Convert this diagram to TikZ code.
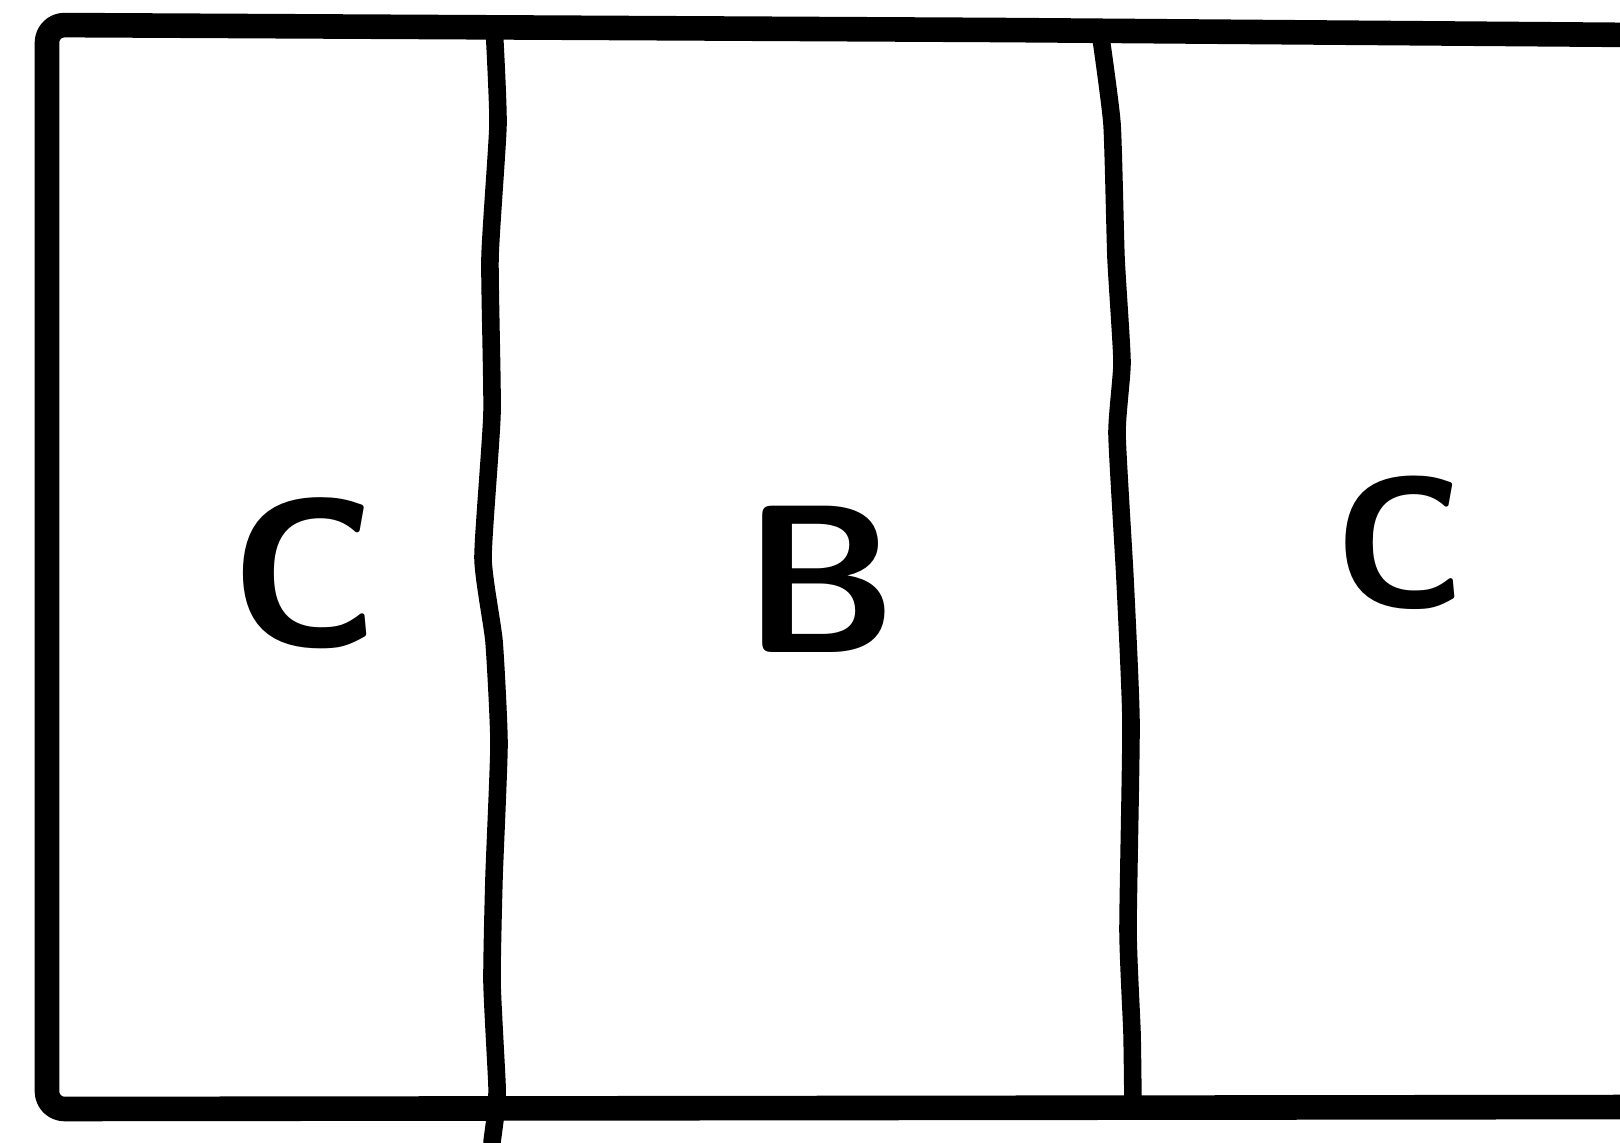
\documentclass[tikz,border=0pt]{standalone}
\usepackage{fontspec}
\begin{document}
\begin{tikzpicture}[
    every node/.style={font=\sffamily},
    frame/.style={black, line width=7pt, line join=round, rounded corners=5pt},
    wall/.style={black, line width=5pt, line cap=round},
    letter/.style={inner sep=0pt, font=\sffamily\bfseries\fontsize{60}{60}\selectfont},
]
\useasboundingbox (0,0) rectangle (16.20,11.42);

% ============================================================ outer frame, open to the right
\draw[frame] (16.40, 11.07) -- (10.00, 11.12) -- (0.47, 11.17)
    -- (0.47, 0.33) -- (16.40, 0.35);

% ============================================================ the two wavy dividers
\draw[wall] plot[smooth, tension=0.3] coordinates {
    (4.94, 11.17) (4.98, 10.18) (4.90, 8.84) (4.92, 7.29) (4.83, 5.84)
    (4.94, 5.01) (4.99, 3.98) (4.94, 2.64) (4.92, 1.60) (4.97, 0.57)
    (4.96, 0.31) (4.92, 0.00)};

\draw[wall] plot[smooth, tension=0.3] coordinates {
    (11.00, 11.11) (11.12, 10.18) (11.16, 8.84) (11.22, 7.80) (11.17, 7.08)
    (11.25, 5.63) (11.31, 4.19) (11.28, 2.12) (11.32, 1.09) (11.33, 0.35)};

% ============================================================ labels
\node[letter] (leftC)  at (3.05, 5.69) {C};
\node[letter] (midB)   at (8.21, 5.63) {B};
\node[letter, font=\sffamily\bfseries\fontsize{53}{53}\selectfont] (rightC) at (14.00, 5.99) {C};

\end{tikzpicture}
\end{document}
